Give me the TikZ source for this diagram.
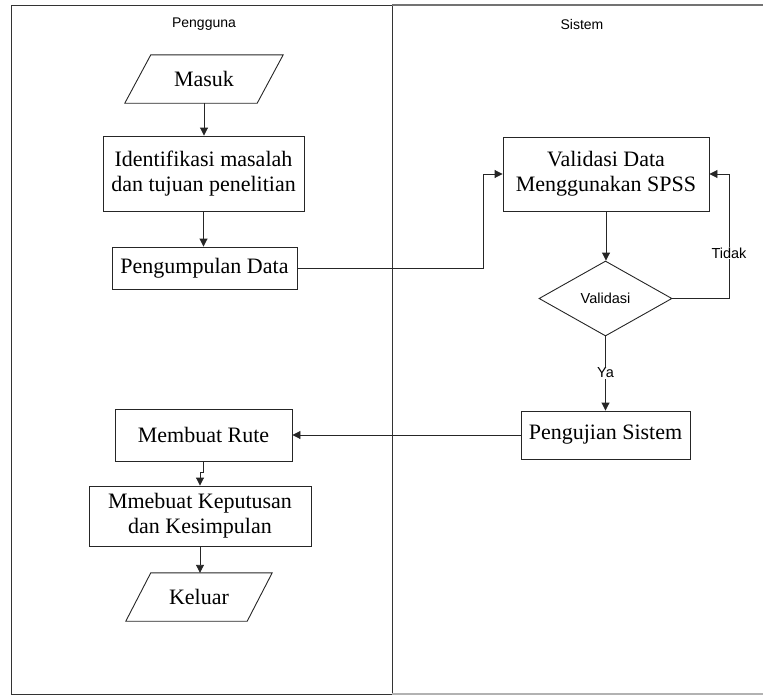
\documentclass[tikz,border=0pt]{standalone}
\usepackage{fontspec}
\setmainfont{Liberation Serif}
\newfontfamily\arialf{Liberation Sans}
\usetikzlibrary{shapes.geometric,arrows.meta,calc}
\begin{document}
\begin{tikzpicture}[x=1pt,y=-1pt,
  box/.style={draw=black!85, line width=0.9pt, inner sep=0pt, align=center,
    font=\fontsize{22}{25}\selectfont},
  iotext/.style={inner sep=0pt, align=center, font=\fontsize{22}{25}\selectfont},
  io/.style={draw=black!85, line width=0.9pt},
  arr/.style={draw=black!85, line width=0.9pt, -{Triangle[length=8pt,width=8pt]}},
  conn/.style={draw=black!85, line width=0.9pt},
  lbl/.style={font=\arialf\fontsize{14.5}{16}\selectfont, inner sep=1pt},
  lanetitle/.style={font=\arialf\fontsize{14}{16}\selectfont, inner sep=0pt}]
\useasboundingbox (0,0) rectangle (763,696);
% swimlanes
\draw[black!80, line width=1pt] (11,5) rectangle (392,694);
\draw[black!55, line width=1.6pt] (392,5) -- (763,5);
\draw[black!30, line width=1.6pt] (392,694) -- (763,694);
\node[lanetitle] (pengguna) at (204,24) {Pengguna};
\node[lanetitle] (sistem) at (582,24) {Sistem};
% left lane
\node[iotext, minimum width=132pt, minimum height=48pt] (masuk) at (204,79) {Masuk};
\draw[io] ($(masuk.south west)+(-13,0)$) -- ($(masuk.north west)+(13,0)$)
  -- ($(masuk.north east)+(13,0)$) -- ($(masuk.south east)+(-13,0)$) -- cycle;
\node[box, minimum width=201pt, minimum height=75pt] (ident) at (203.5,173.5)
  {Identifikasi masalah\\dan tujuan penelitian};
\node[box, minimum width=185pt, minimum height=42pt] (pengum) at (204.5,268)
  {Pengumpulan Data};
\node[box, minimum width=177pt, minimum height=52pt] (rute) at (203.5,435)
  {Membuat Rute};
\node[box, minimum width=222pt, minimum height=60pt] (keput) at (200,516)
  {Mmebuat Keputusan\\dan Kesimpulan};
\node[iotext, minimum width=121pt, minimum height=48pt] (keluar) at (199,597) {Keluar};
\draw[io] ($(keluar.south west)+(-12.5,0)$) -- ($(keluar.north west)+(12.5,0)$)
  -- ($(keluar.north east)+(12.5,0)$) -- ($(keluar.south east)+(-12.5,0)$) -- cycle;
% right lane
\node[box, minimum width=206pt, minimum height=74pt] (valid) at (606,174)
  {Validasi Data\\Menggunakan SPSS};
\node[diamond, draw=black!85, line width=0.9pt, inner sep=0pt, aspect=1.77,
  minimum width=133pt, minimum height=75pt,
  font=\arialf\fontsize{14.5}{16}\selectfont] (dia) at (605.5,298.5) {Validasi};
\node[box, minimum width=169pt, minimum height=48pt] (uji) at (605.5,435)
  {Pengujian Sistem};
% connectors
\draw[arr] (masuk.south) -- (masuk.south |- ident.north);
\draw[arr] (ident.south) -- (ident.south |- pengum.north);
\coordinate (j1) at (483,268);
\draw[arr] (pengum.east) -- (j1) |- (valid.west);
\draw[arr] (valid.south) -- (valid.south |- dia.north);
\coordinate (j2) at (729,298.5);
\draw[arr] (dia.east) -- (j2) |- (valid.east);
\node[lbl, fill=white] (tidak) at (729,253) {Tidak};
\draw[arr] (dia.south) -- (dia.south |- uji.north);
\node[lbl, fill=white] (ya) at (605.5,373) {Ya};
\draw[arr] (uji.west) -- (uji.west -| rute.east);
\draw[arr] (rute.south) -- ++(0,11) -| (keput.north);
\draw[arr] (keput.south) -- (keput.south |- keluar.north);
\end{tikzpicture}
\end{document}
